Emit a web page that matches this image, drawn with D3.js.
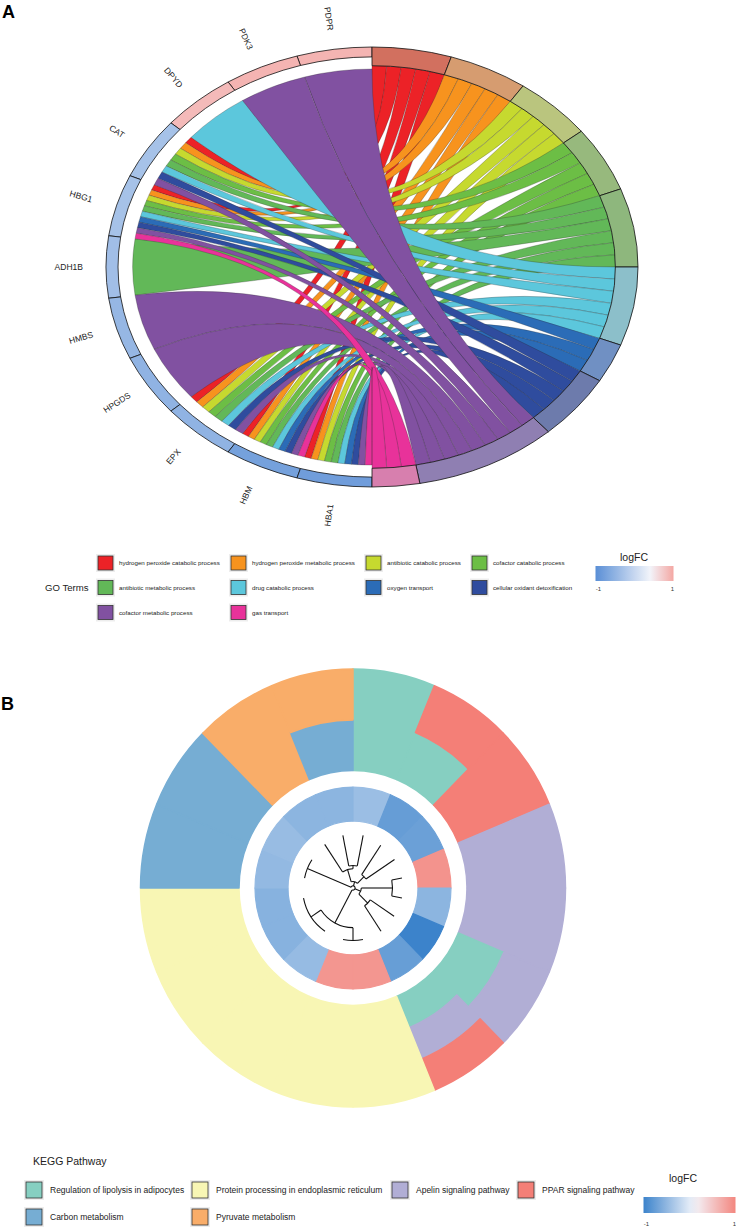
<!DOCTYPE html>
<html>
<head>
<meta charset="utf-8">
<script src="https://cdn.jsdelivr.net/npm/d3@7"></script>
<style>
  body { margin: 0; background: #fff; }
  svg { display: block; font-family: "Liberation Sans", Arial, sans-serif; }
</style>
</head>
<body>
<div id="chart"></div>
<script>
// ---- panel A : GO chord ----
var genes = ["PDPR", "PDK3", "DPYD", "CAT", "HBG1", "ADH1B", "HMBS", "HPGDS", "EPX", "HBM", "HBA1"];
var geneLogFC = [0.9, 0.9, 0.85, -0.3, -0.3, -0.35, -0.45, -0.5, -0.5, -0.75, -0.8];

var goTerms = ["hydrogen peroxide catabolic process", "hydrogen peroxide metabolic process",
  "antibiotic catabolic process", "cofactor catabolic process", "antibiotic metabolic process",
  "drug catabolic process", "oxygen transport", "cellular oxidant detoxification",
  "cofactor metabolic process", "gas transport"];
var termColors = ["#ec2227", "#f7931e", "#c6d92f", "#6cbe45", "#62b858",
  "#5cc7dc", "#2b6cb7", "#2f4c9e", "#8151a1", "#e8329a"];
var termRingColors = ["#d2705f", "#d69c70", "#bac57e", "#97b97d", "#8eb77d",
  "#8cbfca", "#7090c3", "#6d7bac", "#8f7fb2", "#d77fae"];
var termGenes = [
  ["CAT", "HBG1", "EPX", "HBM", "HBA1"],
  ["CAT", "HBG1", "EPX", "HBM", "HBA1"],
  ["CAT", "HBG1", "EPX", "HBM", "HBA1"],
  ["CAT", "HBG1", "EPX", "HBM", "HBA1"],
  ["CAT", "HBG1", "ADH1B", "EPX", "HBM", "HBA1"],
  ["DPYD", "CAT", "HBG1", "EPX", "HBM", "HBA1"],
  ["HBG1", "HBM", "HBA1"],
  ["CAT", "HBG1", "EPX", "HBM", "HBA1"],
  ["PDPR", "PDK3", "CAT", "HBG1", "HMBS", "HPGDS", "EPX", "HBM", "HBA1"],
  ["HBG1", "HBM", "HBA1"]
];

// ---- panel B : KEGG circle ----
var keggPathways = ["Regulation of lipolysis in adipocytes", "Protein processing in endoplasmic reticulum",
  "Apelin signaling pathway", "PPAR signaling pathway", "Carbon metabolism", "Pyruvate metabolism"];
var keggColors = ["#86cfc1", "#f8f6b4", "#b1aed5", "#f47f77", "#76add3", "#f9ad69"];
// pathways of each gene, clockwise from 12 o'clock, stacked inner -> outer
var keggGenePathways = [[0], [0, 3], [3], [2], [2], [0, 2], [0, 2, 3], [1], [1], [1], [1], [1], [4], [4], [5], [4, 5]];
var keggLogFC = [-0.43, -0.75, -0.72, 0.9, -0.52, -1.0, -0.74, 0.88, 0.88, -0.46, -0.55, -0.55, -0.48, -0.45, -0.52, -0.52];
// dendrogram of the 16 genes (h = distance from root, 0..1)
var keggTree = {h: 0.04, children: [
  {h: 0.95, children: [{leaf: 12, h: 0.95}, {leaf: 13, h: 0.95}]},
  {h: 0.12, children: [
    {h: 0.36, children: [{leaf: 14, h: 0.98}, {h: 0.42, children: [{leaf: 15, h: 1}, {leaf: 0, h: 1}]}]},
    {h: 0.3, children: [{leaf: 1, h: 0.96}, {leaf: 2, h: 0.96}]}
  ]},
  {h: 0.16, children: [
    {h: 0.76, children: [{leaf: 3, h: 0.96}, {leaf: 4, h: 0.96}]},
    {h: 0.4, children: [{leaf: 5, h: 0.95}, {leaf: 6, h: 0.97}]}
  ]},
  {h: 0.74, children: [
    {h: 0.98, children: [{leaf: 7, h: 0.98}, {leaf: 8, h: 0.98}]},
    {h: 0.97, children: [{leaf: 9, h: 0.97}, {leaf: 10, h: 0.97}, {leaf: 11, h: 0.97}]}
  ]}
]};

var svg = d3.select("#chart").append("svg")
  .attr("width", 736)
  .attr("height", 1231);

// panel letters
svg.append("text").attr("x", 2).attr("y", 18).text("A")
  .style("font-size", "18px").style("font-weight", "bold");
svg.append("text").attr("x", 1).attr("y", 710).text("B")
  .style("font-size", "18px").style("font-weight", "bold");

// ================= A =================
var cxA = 372, cyA = 267, rxA = 266, ryA = 220;
var gA = svg.append("g").attr("transform", `translate(${cxA},${cyA}) scale(${rxA},${ryA})`);

var colorA = d3.scaleLinear().domain([-1, 0.4, 1]).range(["#5a8fd6", "#f2f4fa", "#f4a7a3"]);

var geneAngle = d3.scaleLinear().domain([0, genes.length]).range([0, -Math.PI]);
var termCounts = termGenes.map(d => d.length);
var termCum = [0].concat(Array.from(d3.cumsum(termCounts)));
var termAngle = d3.scaleLinear().domain([0, d3.sum(termCounts)]).range([0, Math.PI]);

var geneTerms = genes.map(g => d3.range(goTerms.length).filter(j => termGenes[j].includes(g)));

var links = [];
termGenes.forEach(function(list, j) {
  list.forEach(function(g, k) {
    var i = genes.indexOf(g);
    var gt = geneTerms[i];
    var m = gt.indexOf(j);
    var top = geneAngle(i), bot = geneAngle(i + 1);
    var gw = (top - bot) / gt.length;
    var up = top - m * gw;
    links.push({
      term: j,
      source: {startAngle: up - gw, endAngle: up},
      target: {startAngle: termAngle(termCum[j] + k), endAngle: termAngle(termCum[j] + k + 1)}
    });
  });
});

var ribbon = d3.ribbon().sourceRadius(0.9).targetRadius(0.915);

gA.selectAll("path.rib").data(links).enter()
  .append("path")
  .attr("class", "rib")
  .attr("d", ribbon)
  .attr("fill", d => termColors[d.term])
  .attr("stroke", "#2a2a2a")
  .attr("stroke-width", 0.35)
  .attr("stroke-opacity", 0.8)
  .attr("vector-effect", "non-scaling-stroke");

// gene ring
var geneArc = d3.arc().innerRadius(0.955).outerRadius(1);
gA.selectAll("path.gene").data(genes).enter()
  .append("path")
  .attr("class", "gene")
  .attr("d", (d, i) => geneArc({startAngle: geneAngle(i + 1), endAngle: geneAngle(i)}))
  .attr("fill", (d, i) => colorA(geneLogFC[i]))
  .attr("stroke", "#111")
  .attr("stroke-width", 0.8)
  .attr("vector-effect", "non-scaling-stroke");

// term ring
var termArc = d3.arc().innerRadius(0.915).outerRadius(1);
gA.selectAll("path.term").data(goTerms).enter()
  .append("path")
  .attr("class", "term")
  .attr("d", (d, j) => termArc({startAngle: termAngle(termCum[j]), endAngle: termAngle(termCum[j + 1])}))
  .attr("fill", (d, j) => termRingColors[j])
  .attr("stroke", "#111")
  .attr("stroke-width", 0.8)
  .attr("vector-effect", "non-scaling-stroke");

// gene labels
genes.forEach(function(g, i) {
  var a = (geneAngle(i) + geneAngle(i + 1)) / 2;
  var x = cxA + 1.14 * rxA * Math.sin(a);
  var y = cyA - 1.14 * ryA * Math.cos(a);
  svg.append("text")
    .attr("transform", `translate(${x},${y}) rotate(${90 + a * 180 / Math.PI})`)
    .attr("text-anchor", "middle")
    .attr("dy", "0.35em")
    .style("font-size", "8.5px")
    .style("fill", "#222")
    .text(g);
});

// legend A
svg.append("text").attr("x", 45).attr("y", 591).text("GO Terms")
  .style("font-size", "9.6px").style("fill", "#222");
var colXA = [98, 231, 366, 472], rowYA = [556, 580.5, 605.5];
goTerms.forEach(function(t, j) {
  var x = colXA[j % 4], y = rowYA[Math.floor(j / 4)];
  svg.append("rect").attr("x", x - 2).attr("y", y - 2).attr("width", 19).attr("height", 18).attr("fill", "#ededed");
  svg.append("rect").attr("x", x).attr("y", y).attr("width", 15).attr("height", 14)
    .attr("fill", termColors[j]).attr("stroke", "#333").attr("stroke-width", 0.8);
  svg.append("text").attr("x", x + 21).attr("y", y + 7).attr("dy", "0.35em")
    .style("font-size", "6.2px").style("fill", "#222").text(t);
});

function gradientLegend(id, scale, x, y, w, h, titleX, titleY, labY) {
  var grad = svg.append("defs").append("linearGradient").attr("id", id);
  d3.range(0, 1.0001, 0.1).forEach(function(f) {
    grad.append("stop").attr("offset", f).attr("stop-color", scale(-1 + 2 * f));
  });
  svg.append("text").attr("x", titleX).attr("y", titleY).attr("text-anchor", "middle")
    .style("font-size", "10.5px").style("fill", "#222").text("logFC");
  svg.append("rect").attr("x", x).attr("y", y).attr("width", w).attr("height", h)
    .attr("fill", `url(#${id})`);
  svg.append("text").attr("x", x + 3).attr("y", labY).attr("text-anchor", "middle")
    .style("font-size", "6px").style("fill", "#333").text("-1");
  svg.append("text").attr("x", x + w - 1).attr("y", labY).attr("text-anchor", "middle")
    .style("font-size", "6px").style("fill", "#333").text("1");
}
gradientLegend("gradA", colorA, 595.5, 566, 78, 15, 634, 561, 591);

// ================= B =================
var cxB = 353, cyB = 888;
var gB = svg.append("g").attr("transform", `translate(${cxB},${cyB}) scale(1,1.03)`);

var colorB = d3.scaleLinear().domain([-1, 0.1, 1]).range(["#3c83cb", "#f3f5fb", "#f3877f"]);
var angleB = d3.scaleBand().domain(d3.range(keggGenePathways.length)).range([0, 2 * Math.PI]);
var rBar = d3.scaleLinear().domain([0, 1]).range([114, 212.5]);

var segs = [];
keggGenePathways.forEach(function(ps, i) {
  ps.forEach(function(p, k) {
    segs.push({gene: i, path: p, r0: k / ps.length, r1: (k + 1) / ps.length});
  });
});
var barArc = d3.arc();
gB.selectAll("path.bar").data(segs).enter()
  .append("path")
  .attr("class", "bar")
  .attr("d", d => barArc({innerRadius: rBar(d.r0), outerRadius: rBar(d.r1),
    startAngle: angleB(d.gene), endAngle: angleB(d.gene) + angleB.bandwidth()}))
  .attr("fill", d => keggColors[d.path])
  .attr("stroke", d => keggColors[d.path])
  .attr("stroke-width", 1.5)
  .attr("stroke-linejoin", "round");

var fcArc = d3.arc().innerRadius(65).outerRadius(98);
gB.selectAll("path.fc").data(keggLogFC).enter()
  .append("path")
  .attr("class", "fc")
  .attr("d", (d, i) => fcArc({startAngle: angleB(i), endAngle: angleB(i) + angleB.bandwidth()}))
  .attr("fill", d => colorB(d))
  .attr("stroke", d => colorB(d))
  .attr("stroke-width", 1.2)
  .attr("stroke-linejoin", "round");

// dendrogram (circular, radial branches + arcs)
var rTree = d3.scaleLinear().domain([0, 1]).range([0, 52]);
function leafAngle(i) {
  var a = angleB(i) + angleB.bandwidth() / 2;
  return a < 1.5 * Math.PI ? a + 2 * Math.PI : a;
}
function setAngles(n) {
  if (n.children) {
    n.children.forEach(setAngles);
    n.a = (n.children[0].a + n.children[n.children.length - 1].a) / 2;
  } else {
    n.a = leafAngle(n.leaf);
  }
}
setAngles(keggTree);
var treeLines = [];
function collect(n) {
  if (!n.children) return;
  var p = d3.path();
  p.arc(0, 0, rTree(n.h), n.children[0].a - Math.PI / 2, n.children[n.children.length - 1].a - Math.PI / 2);
  treeLines.push(p.toString());
  n.children.forEach(function(c) {
    var q = d3.path();
    q.moveTo(rTree(n.h) * Math.sin(c.a), -rTree(n.h) * Math.cos(c.a));
    q.lineTo(rTree(c.h) * Math.sin(c.a), -rTree(c.h) * Math.cos(c.a));
    treeLines.push(q.toString());
    collect(c);
  });
}
collect(keggTree);
gB.selectAll("path.tree").data(treeLines).enter()
  .append("path")
  .attr("class", "tree")
  .attr("d", d => d)
  .attr("fill", "none")
  .attr("stroke", "#111")
  .attr("stroke-width", 1.1)
  .attr("vector-effect", "non-scaling-stroke");

// legend B
svg.append("text").attr("x", 33).attr("y", 1165).text("KEGG Pathway")
  .style("font-size", "10.5px").style("fill", "#222");
var colXB = [26, 192, 392, 518], rowYB = [1182, 1209];
keggPathways.forEach(function(t, j) {
  var x = colXB[j % 4], y = rowYB[Math.floor(j / 4)];
  svg.append("rect").attr("x", x - 2).attr("y", y - 2).attr("width", 20).attr("height", 20).attr("fill", "#ededed");
  svg.append("rect").attr("x", x).attr("y", y).attr("width", 16).attr("height", 16)
    .attr("fill", keggColors[j]).attr("stroke", "#333").attr("stroke-width", 0.8);
  svg.append("text").attr("x", x + 24).attr("y", y + 8).attr("dy", "0.35em")
    .style("font-size", "8.5px").style("fill", "#222").text(t);
});
gradientLegend("gradB", colorB, 643.5, 1197, 92, 16, 683, 1182, 1226);
</script>
</body>
</html>
